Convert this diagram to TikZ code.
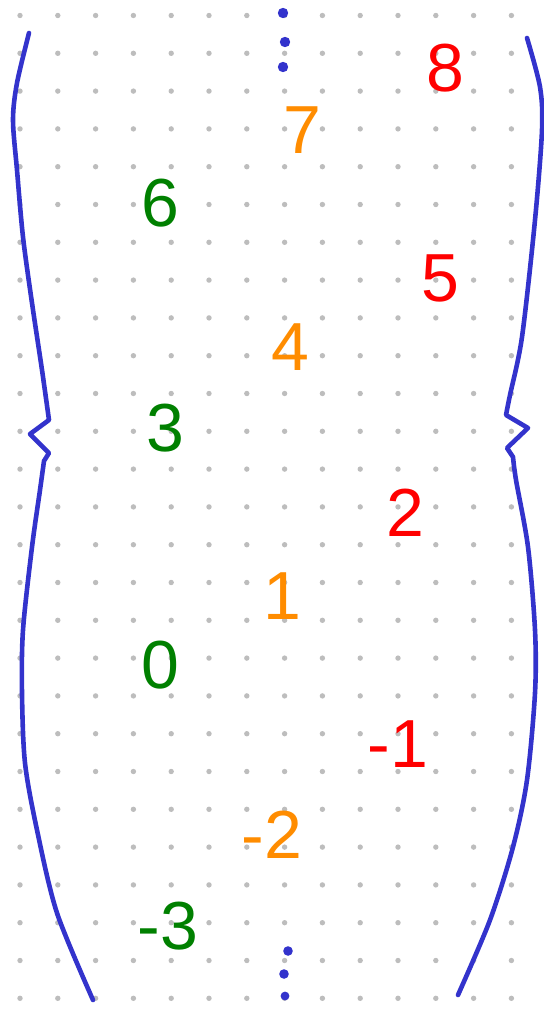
\documentclass[tikz,border=0pt]{standalone}
\usepackage{fontspec}
\setmainfont{Liberation Sans}
\usepackage{xcolor}
\usepackage{tikz}
\definecolor{penBlue}{HTML}{3333CC}
\definecolor{penRed}{HTML}{FF0000}
\definecolor{penOrange}{HTML}{FF8C00}
\definecolor{penGreen}{HTML}{008000}
\definecolor{dotGray}{HTML}{BDBDBD}

\begin{document}
\begin{tikzpicture}[
  x=0.5pt, y=-0.5pt,
  num/.style={font=\fontsize{34}{34}\selectfont, text=#1, inner sep=0pt},
  num/.default=penGreen,
  bracket/.style={penBlue, line width=2.3pt, line cap=round, line join=round},
  ell/.style={fill=penBlue, draw=none},
]
\useasboundingbox (0,0) rectangle (544,1022);

% dot grid
\foreach \i in {0,...,13}
  \foreach \j in {0,...,26}
    \fill[dotGray] (20+37.8*\i, 15.5+37.8*\j) circle (1.35pt);

% === left bracket ===
\draw[bracket] plot[smooth] coordinates {(29,33) (17,83) (13,120) (17,170) (23,237) (32,303) (42,370) (49,420)}
  -- (30,434) -- (49,453)
  -- plot[smooth] coordinates {(44,461) (40,490) (32,547) (23,630) (22,693) (25,763) (37,830) (57,913) (93,1000)};

% === right bracket ===
\draw[bracket] plot[smooth] coordinates {(527,38) (540,87) (542,130) (535,220) (522,337) (510,395) (506,415)}
  -- (528,428) -- (507,448)
  -- plot[smooth] coordinates {(513,457) (516,480) (528,547) (535,630) (535,693) (527,780) (513,847) (490,920) (458,995)};

% ellipsis dots
\fill[ell] (283,13) circle (2.6pt);
\fill[ell] (285,42) circle (2.6pt);
\fill[ell] (283,67) circle (2.6pt);
\fill[ell] (288,951) circle (2.4pt);
\fill[ell] (284,974) circle (2.4pt);
\fill[ell] (285,996) circle (2.2pt);

% numbers
\node[num=penRed] (n8) at (445,68) {8};
\node[num=penOrange] (n7) at (302,130) {7};
\node[num] (n6) at (160,203) {6};
\node[num=penRed] (n5) at (440,278) {5};
\node[num=penOrange] (n4) at (290,347) {4};
\node[num] (n3) at (165,428) {3};
\node[num=penRed] (n2) at (405,513) {2};
\node[num=penOrange] (n1) at (282,596) {1};
\node[num] (n0) at (160,665) {0};
\node[num=penRed] (nm1) at (398,744) {-1};
\node[num=penOrange] (nm2) at (272,835) {-2};
\node[num] (nm3) at (168,926) {-3};
\end{tikzpicture}
\end{document}
